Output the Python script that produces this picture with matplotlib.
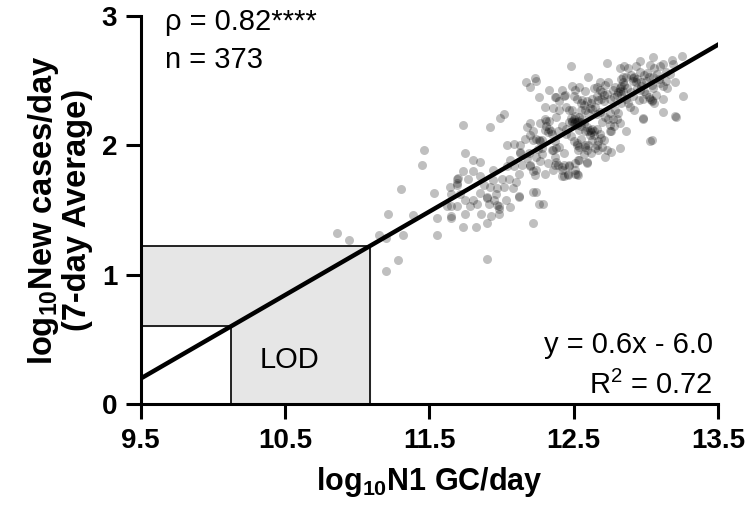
import matplotlib
matplotlib.use("Agg")
import matplotlib.pyplot as plt
import numpy as np

plt.rcParams['font.family'] = ['Liberation Sans', 'DejaVu Sans']
plt.rcParams['mathtext.fontset'] = 'custom'
plt.rcParams['mathtext.rm'] = 'Liberation Sans'
plt.rcParams['mathtext.bf'] = 'Liberation Sans:bold'

# log10 N1 GC/day vs log10 new cases/day
pts_low = [
    (10.86, 1.32), (10.94, 1.27), (11.15, 1.31), (11.20, 1.28), (11.21, 1.47), (11.28, 1.11),
    (11.20, 1.03), (11.30, 1.66), (11.32, 1.31), (11.39, 1.46), (11.45, 1.85), (11.46, 1.96),
    (11.53, 1.63), (11.55, 1.44), (11.55, 1.31), (11.62, 1.53), (11.65, 1.53), (11.64, 1.68),
    (11.65, 1.44), (11.65, 1.62), (11.69, 1.71), (11.69, 1.74), (11.69, 1.69), (11.69, 1.53),
    (11.70, 1.75), (11.65, 1.45),
]
pts_mid = [
    (11.71, 1.62), (11.73, 2.16), (11.73, 1.80), (11.73, 1.37), (11.75, 1.94), (11.75, 1.58),
    (11.75, 1.47), (11.77, 1.74), (11.78, 1.53), (11.80, 1.89), (11.80, 1.80), (11.80, 1.58),
    (11.82, 1.37), (11.85, 1.87), (11.85, 1.76), (11.85, 1.63), (11.88, 1.69), (11.90, 1.59),
    (11.90, 1.60), (11.90, 1.40), (11.90, 1.12), (11.91, 1.55), (11.92, 2.14), (11.92, 1.68),
    (11.94, 1.81), (11.94, 1.73), (11.95, 1.58), (11.97, 1.67), (11.97, 1.54), (11.98, 1.53),
    (11.98, 1.51), (11.98, 1.47), (11.99, 2.21), (12.00, 1.74), (12.02, 2.24), (12.02, 1.68),
    (12.04, 2.00), (12.04, 1.84), (12.05, 1.74), (12.06, 1.89), (12.09, 2.01), (12.09, 1.84),
]
pts_12 = [
    (12.10, 1.72), (12.12, 1.61), (12.12, 1.60), (12.13, 2.00), (12.13, 1.94), (12.13, 1.95),
    (12.14, 1.85), (12.17, 2.49), (12.18, 2.14), (12.19, 1.94), (12.20, 2.17), (12.20, 2.45),
    (12.20, 2.08), (12.20, 1.85), (12.20, 1.84), (12.22, 2.04), (12.22, 2.11), (12.22, 1.64),
    (12.22, 1.80), (12.22, 1.40), (12.23, 2.52), (12.23, 1.77), (12.24, 2.50), (12.24, 2.05),
    (12.24, 1.91), (12.24, 1.81), (12.24, 1.64), (12.26, 2.04), (12.26, 1.55), (12.27, 2.17),
    (12.27, 2.03), (12.28, 2.04), (12.28, 1.98), (12.28, 1.93), (12.29, 1.55), (12.30, 2.20),
    (12.30, 2.12), (12.31, 2.19), (12.33, 2.43), (12.33, 2.19), (12.34, 2.11), (12.35, 1.96),
    (12.36, 1.96), (12.36, 1.81), (12.37, 2.37), (12.37, 2.03), (12.37, 1.91), (12.37, 1.85),
    (12.38, 2.37), (12.38, 1.98), (12.38, 1.87), (12.39, 2.11), (12.39, 1.85),
]
pts_125 = [
    (12.40, 2.27), (12.40, 1.99), (12.42, 1.83), (12.42, 1.81), (12.42, 1.76), (12.43, 2.38),
    (12.43, 1.94), (12.43, 1.85), (12.43, 1.76), (12.44, 2.39), (12.45, 2.09), (12.46, 1.78),
    (12.46, 1.77), (12.47, 2.27), (12.47, 2.18), (12.47, 1.84), (12.47, 1.85), (12.48, 2.61),
    (12.49, 2.46), (12.49, 2.27), (12.49, 2.18), (12.50, 2.38), (12.50, 2.20), (12.51, 2.43),
    (12.51, 2.18), (12.51, 1.86), (12.51, 1.81), (12.51, 1.78), (12.52, 2.36), (12.52, 2.18),
    (12.52, 2.02), (12.52, 2.00), (12.52, 1.78), (12.53, 1.96), (12.53, 1.89), (12.53, 1.77),
    (12.54, 2.45), (12.54, 2.22), (12.54, 2.12), (12.54, 1.99), (12.54, 1.89), (12.55, 2.33),
    (12.55, 2.27), (12.55, 2.18), (12.56, 2.35), (12.58, 2.42), (12.58, 2.11), (12.58, 2.00),
    (12.58, 1.99), (12.59, 2.34), (12.59, 2.14), (12.59, 1.96), (12.59, 1.87), (12.59, 1.86),
    (12.60, 2.53), (12.60, 2.00), (12.61, 2.29), (12.61, 2.12), (12.63, 2.04), (12.64, 2.44),
    (12.64, 2.08), (12.65, 2.30), (12.65, 1.98), (12.66, 2.13), (12.67, 2.35), (12.67, 2.03),
    (12.67, 1.96), (12.68, 2.49), (12.68, 2.43), (12.68, 2.26), (12.68, 2.09),
]
pts_high = [
    (12.70, 1.99), (12.71, 2.39), (12.71, 2.34), (12.71, 2.04), (12.72, 1.91), (12.73, 2.64),
    (12.73, 2.40), (12.73, 1.96), (12.74, 2.49), (12.74, 2.20), (12.75, 2.36), (12.75, 2.25),
    (12.75, 2.16), (12.75, 2.11), (12.76, 2.11), (12.76, 1.95), (12.79, 2.45), (12.80, 2.39),
    (12.80, 2.20), (12.81, 2.25), (12.82, 2.60), (12.82, 2.42), (12.82, 2.17), (12.82, 1.98),
    (12.83, 2.46), (12.83, 2.40), (12.83, 2.51), (12.83, 2.33), (12.84, 2.53), (12.85, 2.61),
    (12.86, 2.53), (12.86, 2.36), (12.86, 2.11), (12.88, 2.60), (12.89, 2.30), (12.91, 2.52),
    (12.91, 2.38), (12.92, 2.27), (12.93, 2.61), (12.95, 2.35), (12.96, 2.65), (12.96, 2.57),
    (12.96, 2.43), (12.97, 2.49), (12.98, 2.36), (12.98, 2.21), (12.98, 2.20), (12.99, 2.54),
    (12.99, 2.42), (13.02, 2.53), (13.03, 2.62), (13.03, 2.36), (13.03, 2.03), (13.04, 2.47),
    (13.04, 2.34), (13.04, 2.04), (13.05, 2.68), (13.05, 2.53), (13.05, 2.44), (13.06, 2.60),
    (13.10, 2.61), (13.10, 2.48), (13.12, 2.63), (13.12, 2.46), (13.12, 2.36), (13.12, 2.26),
    (13.14, 2.57), (13.17, 2.55), (13.18, 2.66), (13.19, 2.63), (13.20, 2.49), (13.20, 2.23),
    (13.21, 2.22), (13.25, 2.69), (13.26, 2.38),
]
# overlapping points in the dark clusters
pts_dense = [
    (12.49, 2.19), (12.50, 2.17), (12.53, 2.19), (12.48, 2.21), (12.56, 2.20),
    (12.60, 2.11), (12.62, 2.10), (12.63, 2.13), (12.61, 2.08), (12.64, 2.11),
    (12.82, 2.44), (12.84, 2.42), (12.81, 2.41), (12.85, 2.47), (12.84, 2.49), (12.87, 2.44),
    (12.91, 2.50), (12.92, 2.53), (12.90, 2.54), (12.93, 2.49), (12.94, 2.51),
    (12.62, 2.33), (12.63, 2.36), (12.66, 2.38), (12.69, 2.36), (12.70, 2.41), (12.66, 2.45),
    (12.72, 2.47), (12.77, 2.43), (12.78, 2.37),
    (12.32, 2.10), (12.33, 2.13), (12.35, 2.09), (12.31, 2.15),
    (12.52, 2.16), (12.55, 2.15), (12.57, 2.17), (12.51, 2.23),
    (13.04, 2.35), (13.02, 2.37), (13.06, 2.33), (13.00, 2.40), (13.07, 2.39),
    (12.58, 2.27), (12.57, 2.31), (12.60, 2.25), (12.63, 2.28), (12.66, 2.24),
    (12.70, 2.18), (12.72, 2.22), (12.77, 2.20), (12.78, 2.15), (12.79, 2.27),
    (12.88, 2.33), (12.90, 2.41), (12.94, 2.44), (12.97, 2.46), (13.00, 2.50), (13.01, 2.56),
    (13.08, 2.55), (13.09, 2.51), (13.14, 2.50), (13.15, 2.44),
    (12.25, 1.97), (12.27, 1.88), (12.32, 1.86), (12.30, 1.78), (12.18, 1.90), (12.16, 2.05),
    (12.12, 1.78), (12.08, 1.67),
    (12.40, 2.34), (12.45, 2.30), (12.42, 2.43), (12.36, 2.29), (12.30, 2.30), (12.26, 2.37),
    (12.55, 2.05), (12.57, 1.93), (12.62, 1.94), (12.66, 2.00), (12.69, 2.06),
    (12.38, 2.22), (12.42, 2.15), (12.45, 2.13), (12.48, 2.07), (12.50, 2.03),
    (11.86, 1.47), (11.83, 1.55), (11.93, 1.45), (12.03, 1.58), (12.06, 1.52), (11.96, 1.62),
]

slope = 0.645
intercept = -5.93
lod_y = 0.6
box_top_y = 1.22
x_ticks = [9.5, 10.5, 11.5, 12.5, 13.5]
y_ticks = [0, 1, 2, 3]

pts = np.array(pts_low + pts_mid + pts_12 + pts_125 + pts_high + pts_dense)

fig = plt.figure(figsize=(7.49, 5.15), dpi=100)
ax = fig.add_axes([0.188, 0.2155, 0.7705, 0.7535])

# LOD boxes
x_lod = (lod_y - intercept) / slope
x_top = (box_top_y - intercept) / slope
poly_x = [9.5, 9.5, x_top, x_top, x_lod, x_lod, 9.5]
poly_y = [lod_y, box_top_y, box_top_y, 0, 0, lod_y, lod_y]
ax.fill(poly_x, poly_y, color='#e6e6e6', zorder=1)
ax.plot(poly_x, poly_y, color='black', lw=1.2, zorder=2)

ax.scatter(pts[:, 0], pts[:, 1], s=42, color='black', alpha=0.25, lw=0, zorder=3)

xl = np.array([9.5, 13.5])
ax.plot(xl, slope * xl + intercept, color='black', lw=3.2, zorder=4)

ax.set_xlim(9.5, 13.5)
ax.set_ylim(0, 3)
ax.set_xticks(x_ticks)
ax.set_xticklabels([str(t) for t in x_ticks])
ax.set_yticks(y_ticks)
for s in ['top', 'right']:
    ax.spines[s].set_visible(False)
for s in ['left', 'bottom']:
    ax.spines[s].set_linewidth(2.2)
ax.tick_params(width=2.2, length=11, labelsize=20, pad=6)
for lab in ax.get_xticklabels() + ax.get_yticklabels():
    lab.set_fontweight('bold')

ax.set_xlabel(r'log$_{\mathbf{10}}$N1 GC/day', fontsize=22, fontweight='bold', labelpad=8)
ax.set_ylabel('log$_{\\mathbf{10}}$New cases/day\n(7-day Average)', fontsize=23.5,
              fontweight='bold', labelpad=6, linespacing=1.05)

ax.text(0.042, 0.985, 'ρ = 0.82****', transform=ax.transAxes, fontsize=21, va='center')
ax.text(0.042, 0.887, 'n = 373', transform=ax.transAxes, fontsize=21, va='center')
ax.text(0.991, 0.152, 'y = 0.6x - 6.0', transform=ax.transAxes, fontsize=21,
        va='center', ha='right')
ax.text(0.991, 0.049, r'R$^{2}$ = 0.72', transform=ax.transAxes, fontsize=21,
        va='center', ha='right')
ax.text(10.53, 0.34, 'LOD', fontsize=21, ha='center', va='center', zorder=5)

fig.savefig('out.png', dpi=100)
